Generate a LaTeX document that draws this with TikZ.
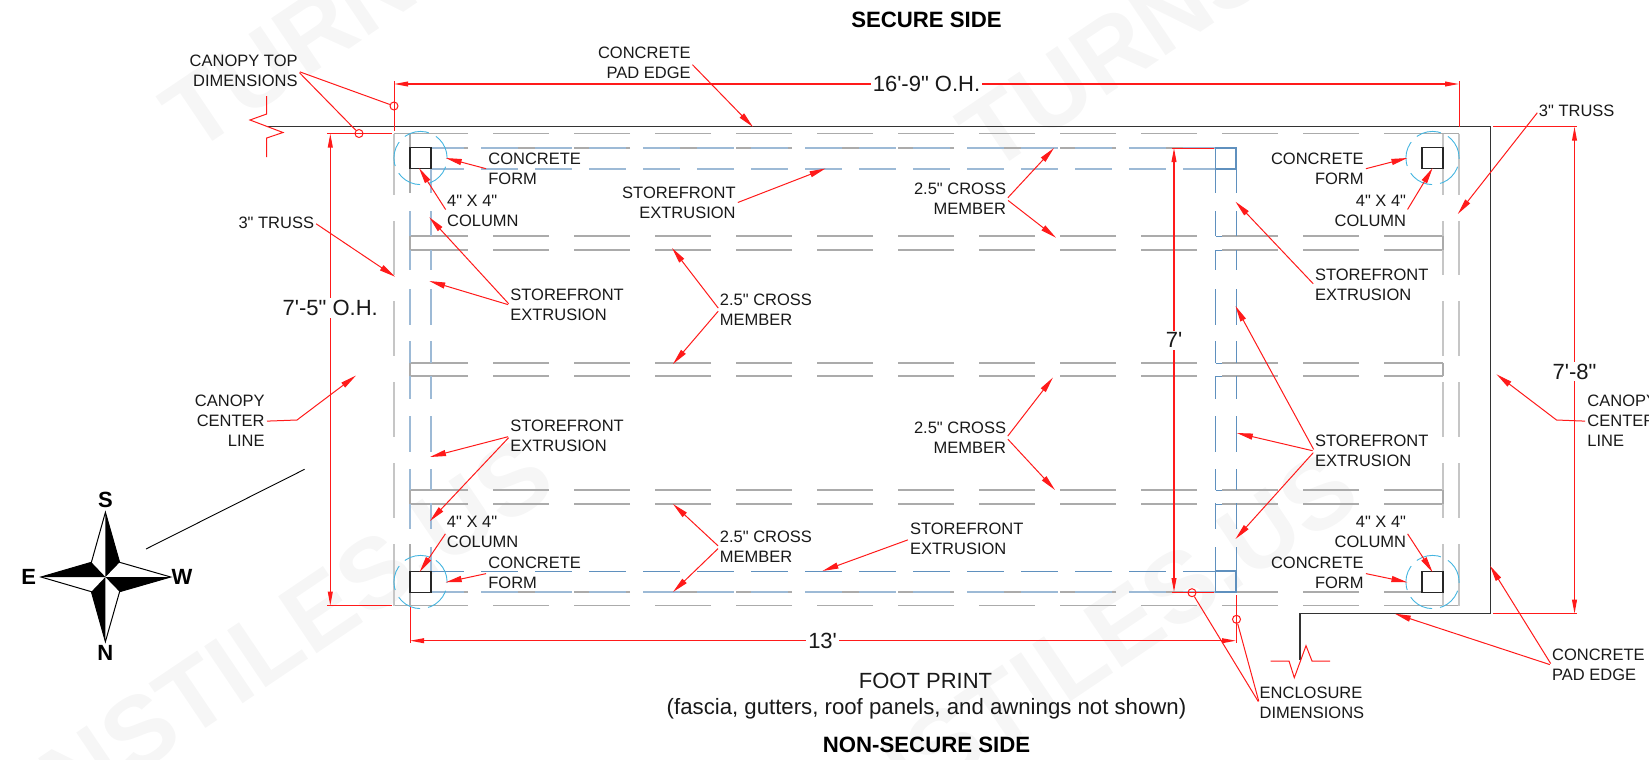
\documentclass[tikz,border=0pt]{standalone}
\usepackage{fontspec}
\usetikzlibrary{arrows.meta}
\newfontfamily\dwgfont{Liberation Sans}
\definecolor{redline}{HTML}{FF1A1A}
\definecolor{trussgrey}{HTML}{ABABAB}
\definecolor{trusslight}{HTML}{C6C6C6}
\definecolor{extrlight}{HTML}{9DBAD6}
\definecolor{extrdark}{HTML}{5F90BE}
\definecolor{formcyan}{HTML}{45B5E0}
\definecolor{markgrey}{HTML}{F6F6F6}
\tikzset{
  lbl/.style={font=\dwgfont\fontsize{8.25}{10}\selectfont,inner sep=0pt,text=black!90,yshift=-.6pt},
  lblleft/.style={lbl,align=left,anchor=west},
  lblright/.style={lbl,align=right,anchor=east},
  dimtxt/.style={font=\dwgfont\fontsize{11}{13}\selectfont,fill=white,inner sep=1pt,text=black!90},
  sidetxt/.style={font=\dwgfont\bfseries\fontsize{11.1}{13}\selectfont,inner sep=0pt},
  compasstxt/.style={font=\dwgfont\bfseries\fontsize{11}{13}\selectfont,inner sep=0pt},
  wmark/.style={font=\dwgfont\bfseries\fontsize{50}{52}\selectfont,text=markgrey,inner sep=0pt,rotate=34},
  lead/.style={redline,line width=.5pt,shorten <=1pt,-{Triangle[length=8pt,width=3pt]}},
  plainred/.style={redline,line width=.5pt},
  dimarr/.style={redline,line width=.6pt,{Triangle[length=7pt,width=2.4pt]}-{Triangle[length=7pt,width=2.4pt]}},
  markcirc/.style={circle,draw=redline,line width=.5pt,minimum size=4pt,inner sep=0pt},
  truss/.style={trussgrey,line width=.7pt},
  trussd/.style={truss,dash pattern=on 28pt off 12.5pt},
  trusslt/.style={trusslight,line width=.7pt},
  extr/.style={extrlight,line width=.7pt},
  extrb/.style={extrdark,line width=.5pt},
  extrd/.style={dash pattern=on 18.5pt off 8.5pt,dash phase=2pt},
  formc/.style={formcyan,line width=.45pt,dash pattern=on 12.6pt off 4pt},
  column/.style={draw=black!85,fill=white,line width=.7pt},
}
\newcommand{\trussrow}[2]{%
  \draw[truss] (#2,#1) -- (1440,#1);
  \draw[trussd] (1440,#1) -- (412,#1);
  \draw[truss] (412,#1) -- (410,#1);
}
\begin{document}
\begin{tikzpicture}[x=.5pt,y=-.5pt]
\useasboundingbox (0,0) rectangle (1649,760);
% watermark
\node[wmark,anchor=west] (wmA) at (174,126) {TURNSTILES.US};
\node[wmark,anchor=west] (wmB) at (971,146) {TURNSTILES.US};
\node[wmark,anchor=east] (wmC) at (541,461) {TURNSTILES.US};
\node[wmark,anchor=east] (wmD) at (1346,475) {TURNSTILES.US};
% pad outline
\draw[black!80,line width=.6pt] (267,126.7) -- (1490.7,126.7) -- (1490.7,613.7) -- (1300,613.7) -- (1300,660);
\draw[plainred] (266.7,96) -- (266.7,114) -- (250,120) -- (283,132.5) -- (266.7,138) -- (266.7,157);
\draw[plainred] (1270.5,661) -- (1289,661) -- (1294.3,677.7) -- (1306,645.7) -- (1312,661) -- (1330,661);
% truss rows
\foreach \y in {236,250,363,376,490,504} {\trussrow{\y}{1443}}
\trussrow{133.5}{1459}
\trussrow{605.7}{1459}
\draw[truss] (394,133.5) -- (410,133.5);
\draw[truss] (394,605.7) -- (410,605.7);
\draw[trussd,dash phase=31.5pt] (1215,148) -- (431,148);
\draw[trussd,dash phase=9pt] (1422,592) -- (431,592);
\foreach \a/\b in {133.5/195,221/275,301/356,382/437,463/518,544/605.7} {
  \draw[trusslt] (394,\a) -- (394,\b);
  \draw[trusslt] (1443,\a) -- (1443,\b);
  \draw[trusslt] (1459,\a) -- (1459,\b);
}
% extrusions
\foreach \a/\b in {148/193,211/236,250/270,289/325,341/363,376/399,416/452,469/490,503/529,547/592} {
  \draw[extr] (410,\a) -- (410,\b);
  \draw[extr] (431,\a) -- (431,\b);
  \draw[extrb] (1215.5,\a) -- (1215.5,\b);
  \draw[extrb] (1236,\a) -- (1236,\b);
}
\draw[truss] (410,133.5) -- (410,193);
\draw[truss] (410,544) -- (410,605.7);
\draw[truss] (1443,236) -- (1443,250);
\draw[truss] (1443,363) -- (1443,376);
\draw[truss] (1443,490) -- (1443,504);
\foreach \y in {236,250,363,376,490,504} {
  \draw[extrb] (1215.5,\y+0) -- (1222,\y+0);
}
\draw[truss] (410,236) -- (410,250);
\draw[truss] (410,363) -- (410,376);
\draw[truss] (410,490) -- (410,504);
\foreach \y in {148,169,592} {
  \draw[extr,extrd] (1215.5,\y) -- (431,\y);
}
\draw[extrb,extrd] (1215.5,571) -- (431,571);
\draw[extrb,line width=.7pt] (1215.5,148) rectangle (1236,169);
\draw[extrb,line width=.7pt] (1215.5,571) rectangle (1236,592);
% forms and columns
\foreach \cx/\cy in {420.5/158,1432.5/158,420.5/582,1432.5/582} {
  \draw[formc] (\cx,\cy) circle (13.3pt);
  \draw[column] (\cx-10.5,\cy-10.5) rectangle (\cx+10.5,\cy+10.5);
}
% dimensions
\coordinate (dimTL) at (394,84);
\coordinate (dimTR) at (1459,84);
\coordinate (dimLT) at (330.3,133.5);
\coordinate (dimLB) at (330.3,605.7);
\coordinate (dimRT) at (1574.5,126.7);
\coordinate (dimRB) at (1574.5,613.7);
\coordinate (dimET) at (1174,148);
\coordinate (dimEB) at (1174,592);
\coordinate (dimBL) at (410,640.7);
\coordinate (dimBR) at (1236,640.7);
\draw[dimarr] (dimTL) -- node[dimtxt] (txtWide) {16'-9" O.H.} (dimTR);
\draw[dimarr] (dimLT) -- node[dimtxt,pos=.37] (txtDeep) {7'-5" O.H.} (dimLB);
\draw[dimarr] (dimRT) -- node[dimtxt,pos=.503] (txtPad) {7'-8"} (dimRB);
\draw[dimarr] (dimET) -- node[dimtxt,pos=.433] (txtEnclDeep) {7'} (dimEB);
\draw[dimarr] (dimBL) -- node[dimtxt,pos=.4995] (txtEnclWide) {13'} (dimBR);
\draw[plainred] (394,81) -- (394,131);
\draw[plainred] (1459.5,81) -- (1459.5,127);
\draw[plainred] (327,133.5) -- (392,133.5);
\draw[plainred] (327,605.7) -- (392,605.7);
\draw[plainred] (1493,126.7) -- (1577,126.7);
\draw[plainred] (1493,613.7) -- (1577,613.7);
\draw[plainred] (1172,148) -- (1214,148);
\draw[plainred] (1172,592) -- (1214,592);
\draw[plainred] (410,607) -- (410,643);
\draw[plainred] (1236,595) -- (1236,643);
\node[markcirc] (ptTopA) at (394,106) {};
\node[markcirc] (ptTopB) at (359,133.5) {};
\node[markcirc] (ptEnclA) at (1192,592.7) {};
\node[markcirc] (ptEnclB) at (1236.5,619.3) {};
% titles
\node[sidetxt] (secure) at (926.5,20) {SECURE SIDE};
\node[sidetxt] (nonsecure) at (926.5,745) {NON-SECURE SIDE};
\node[font=\dwgfont\fontsize{11}{13}\selectfont,inner sep=0pt,text=black!90] (foot) at (925.5,681) {FOOT PRINT};
\node[font=\dwgfont\fontsize{11.1}{13}\selectfont,inner sep=0pt,text=black!90] (footnote) at (926.5,709) {(fascia, gutters, roof panels, and awnings not shown)};
% labels, left half
\node[lblright] (lblCanopyTop) at (298,70) {CANOPY TOP\\DIMENSIONS};
\node[lblright] (lblPadTop) at (691,62) {CONCRETE\\PAD EDGE};
\node[lblleft] (lblFormTL) at (488,168) {CONCRETE\\FORM};
\node[lblleft] (lblColTL) at (446.7,210) {4" X 4"\\COLUMN};
\node[lblleft] (lblSfTL) at (510,304) {STOREFRONT\\EXTRUSION};
\node[lblright] (lblTrussL) at (314.5,221.5) {3" TRUSS};
\node[lblright] (lblSfTop) at (736,202) {STOREFRONT\\EXTRUSION};
\node[lblleft] (lblCrossA) at (719.5,308.5) {2.5" CROSS\\MEMBER};
\node[lblright] (lblCrossB) at (1006.5,198) {2.5" CROSS\\MEMBER};
\node[lblright] (lblCrossC) at (1006.5,436.5) {2.5" CROSS\\MEMBER};
\node[lblleft] (lblSfBL) at (510,435) {STOREFRONT\\EXTRUSION};
\node[lblleft] (lblColBL) at (446.5,531) {4" X 4"\\COLUMN};
\node[lblleft] (lblFormBL) at (488,572) {CONCRETE\\FORM};
\node[lblleft] (lblCrossD) at (719.5,546) {2.5" CROSS\\MEMBER};
\node[lblleft] (lblSfBot) at (909.7,538) {STOREFRONT\\EXTRUSION};
\node[lblright] (lblCenterL) at (265,420) {CANOPY\\CENTER\\LINE};
% labels, right half
\node[lblright] (lblFormTR) at (1364,168) {CONCRETE\\FORM};
\node[lblright] (lblColTR) at (1406.5,210) {4" X 4"\\COLUMN};
\node[lblleft] (lblTrussR) at (1538.5,110) {3" TRUSS};
\node[lblleft] (lblSfTR) at (1314.6,284) {STOREFRONT\\EXTRUSION};
\node[lblleft] (lblSfBR) at (1314.6,450) {STOREFRONT\\EXTRUSION};
\node[lblleft] (lblCenterR) at (1587,420) {CANOPY\\CENTER\\LINE};
\node[lblleft] (lblEncl) at (1259.3,702) {ENCLOSURE\\DIMENSIONS};
\node[lblleft] (lblPadR) at (1551.7,664) {CONCRETE\\PAD EDGE};
\node[lblright] (lblColBR) at (1406.5,531) {4" X 4"\\COLUMN};
\node[lblright] (lblFormBR) at (1364,572) {CONCRETE\\FORM};
% leader tips
\coordinate (tipPadTop) at (753,127);
\coordinate (tipFormTL) at (445.7,158);
\coordinate (tipColTL) at (419,168);
\coordinate (tipSfTLa) at (429.3,217.3);
\coordinate (tipSfTLb) at (429.3,281);
\coordinate (tipTrussL) at (395,276.7);
\coordinate (tipSfTop) at (825.5,168.5);
\coordinate (tipCrossAa) at (672,248);
\coordinate (tipCrossAb) at (673,364);
\coordinate (tipCrossBa) at (1054,148);
\coordinate (tipCrossBb) at (1056,237.7);
\coordinate (tipCrossCa) at (1053,377.5);
\coordinate (tipCrossCb) at (1055,490);
\coordinate (tipSfBLa) at (430,457);
\coordinate (tipSfBLb) at (430,521);
\coordinate (tipColBL) at (419.6,572);
\coordinate (tipFormBL) at (445.7,582.3);
\coordinate (tipCrossDa) at (673,504);
\coordinate (tipCrossDb) at (673,592);
\coordinate (tipSfBot) at (822.5,571);
\coordinate (tipCenterL) at (356,375.5);
\coordinate (bendCenterL) at (297,420);
\coordinate (tipFormTR) at (1407.4,158);
\coordinate (tipColTR) at (1432.6,168);
\coordinate (tipTrussR) at (1457.8,214);
\coordinate (tipSfTR) at (1235.5,201.7);
\coordinate (tipSfBRa) at (1235.5,306);
\coordinate (tipSfBRb) at (1236.8,433);
\coordinate (tipSfBRc) at (1235.5,539);
\coordinate (tipCenterR) at (1496.6,374.4);
\coordinate (bendCenterR) at (1556.5,420);
\coordinate (tipPadRa) at (1394.8,613.7);
\coordinate (tipPadRb) at (1490,565.7);
\coordinate (tipColBR) at (1432.6,572.3);
\coordinate (tipFormBR) at (1407.4,582.3);
% leaders
\draw[plainred,shorten <=1pt] (lblCanopyTop.east) -- (ptTopA);
\draw[plainred,shorten <=1pt] (lblCanopyTop.east) -- (ptTopB);
\draw[plainred,shorten <=1pt] (lblEncl.west) -- (ptEnclA);
\draw[plainred,shorten <=1pt] (lblEncl.west) -- (ptEnclB);
\draw[lead] (lblPadTop.east) -- (tipPadTop);
\draw[lead] (lblFormTL.west) -- (tipFormTL);
\draw[lead] (lblColTL.west) -- (tipColTL);
\draw[lead] (lblSfTL.west) -- (tipSfTLa);
\draw[lead] (lblSfTL.west) -- (tipSfTLb);
\draw[lead] (lblTrussL.east) -- (tipTrussL);
\draw[lead] (lblSfTop.east) -- (tipSfTop);
\draw[lead] (lblCrossA.west) -- (tipCrossAa);
\draw[lead] (lblCrossA.west) -- (tipCrossAb);
\draw[lead] (lblCrossB.east) -- (tipCrossBa);
\draw[lead] (lblCrossB.east) -- (tipCrossBb);
\draw[lead] (lblCrossC.east) -- (tipCrossCa);
\draw[lead] (lblCrossC.east) -- (tipCrossCb);
\draw[lead] (lblSfBL.west) -- (tipSfBLa);
\draw[lead] (lblSfBL.west) -- (tipSfBLb);
\draw[lead] (lblColBL.west) -- (tipColBL);
\draw[lead] (lblFormBL.west) -- (tipFormBL);
\draw[lead] (lblCrossD.west) -- (tipCrossDa);
\draw[lead] (lblCrossD.west) -- (tipCrossDb);
\draw[lead] (lblSfBot.west) -- (tipSfBot);
\draw[lead] (lblCenterL.east) -- (bendCenterL) -- (tipCenterL);
\draw[lead] (lblFormTR.east) -- (tipFormTR);
\draw[lead] (lblColTR.east) -- (tipColTR);
\draw[lead] (lblTrussR.west) -- (tipTrussR);
\draw[lead] (lblSfTR.west) -- (tipSfTR);
\draw[lead] (lblSfBR.west) -- (tipSfBRa);
\draw[lead] (lblSfBR.west) -- (tipSfBRb);
\draw[lead] (lblSfBR.west) -- (tipSfBRc);
\draw[lead] (lblCenterR.west) -- (bendCenterR) -- (tipCenterR);
\draw[lead] (lblPadR.west) -- (tipPadRa);
\draw[lead] (lblPadR.west) -- (tipPadRb);
\draw[lead] (lblColBR.east) -- (tipColBR);
\draw[lead] (lblFormBR.east) -- (tipFormBR);
% compass
\coordinate (cmpC) at (105.4,577);
\coordinate (cmpS) at (105.4,512.3);
\coordinate (cmpN) at (105.4,641.7);
\coordinate (cmpE) at (41,577);
\coordinate (cmpW) at (170.7,577);
\coordinate (cmpA) at (91.4,562.3);
\coordinate (cmpB) at (119.6,562.3);
\coordinate (cmpD) at (91.4,591.7);
\coordinate (cmpF) at (119.6,591.7);
\draw[line width=.5pt,fill=white] (cmpS) -- (cmpB) -- (cmpW) -- (cmpF) -- (cmpN) -- (cmpD) -- (cmpE) -- (cmpA) -- cycle;
\fill[black] (cmpC) -- (cmpS) -- (cmpB) -- cycle;
\fill[black] (cmpC) -- (cmpW) -- (cmpF) -- cycle;
\fill[black] (cmpC) -- (cmpN) -- (cmpD) -- cycle;
\fill[black] (cmpC) -- (cmpE) -- (cmpA) -- cycle;
\node[compasstxt] (cmpLblS) at (105.4,500) {S};
\node[compasstxt] (cmpLblN) at (105.4,652.7) {N};
\node[compasstxt] (cmpLblE) at (28.6,577) {E};
\node[compasstxt] (cmpLblW) at (182,577) {W};
\coordinate (rayA) at (146,549);
\coordinate (rayB) at (304.6,469.3);
\draw[black,line width=.45pt] (rayA) -- (rayB);
\end{tikzpicture}
\end{document}
